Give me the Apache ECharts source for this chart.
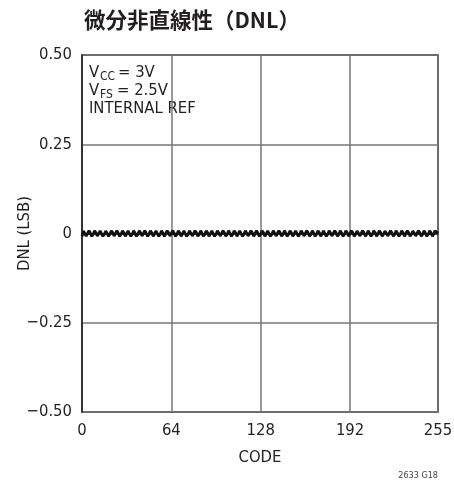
<!DOCTYPE html>
<html><head><meta charset="utf-8">
<script src="https://cdn.jsdelivr.net/npm/echarts@6/dist/echarts.min.js"></script>
<style>html,body{margin:0;padding:0;background:#fff;}#c{width:454px;height:481px;}</style>
</head><body><div id="c"></div>
<script>
const titleText = '微分非直線性（DNL）';
const xTicks = [0, 64, 128, 192, 255];
const yTicks = [-0.5, -0.25, 0, 0.25, 0.5];
const yTickLabels = ['\u22120.50', '\u22120.25', '0', '0.25', '0.50'];
const dnl = [
-0.008,0.007,0.002,-0.007,-0.003,0.008,0.001,-0.008,
-0.002,0.008,0.002,-0.007,-0.003,0.007,0.002,-0.008,
-0.002,0.007,0.001,-0.008,-0.002,0.008,0.002,-0.007,
-0.003,0.008,0.001,-0.008,-0.002,0.008,0.002,-0.008,
-0.003,0.007,0.002,-0.008,-0.002,0.008,0.001,-0.008,
-0.002,0.008,0.002,-0.007,-0.003,0.008,0.001,-0.008,
-0.002,0.008,0.002,-0.008,-0.003,0.007,0.002,-0.008,
-0.002,0.008,0.001,-0.008,-0.003,0.008,0.002,-0.007,
-0.002,0.008,0.001,-0.008,-0.002,0.008,0.002,-0.008,
-0.003,0.007,0.002,-0.008,-0.002,0.008,0.001,-0.007,
-0.003,0.008,0.002,-0.008,-0.002,0.008,0.001,-0.008,
-0.002,0.008,0.002,-0.008,-0.003,0.007,0.002,-0.008,
-0.002,0.008,0.001,-0.007,-0.003,0.008,0.002,-0.008,
-0.002,0.008,0.001,-0.008,-0.002,0.008,0.002,-0.008,
-0.003,0.007,0.002,-0.008,-0.002,0.008,0.001,-0.007,
-0.002,0.008,0.002,-0.008,-0.003,0.008,0.001,-0.008,
-0.002,0.008,0.002,-0.008,-0.003,0.007,0.002,-0.008,
-0.002,0.008,0.001,-0.007,-0.003,0.008,0.002,-0.008,
-0.002,0.008,0.001,-0.008,-0.002,0.008,0.002,-0.008,
-0.003,0.007,0.002,-0.008,-0.002,0.008,0.001,-0.007,
-0.003,0.008,0.002,-0.008,-0.002,0.008,0.001,-0.008,
-0.002,0.008,0.002,-0.008,-0.003,0.007,0.002,-0.008,
-0.002,0.008,0.001,-0.007,-0.003,0.008,0.002,-0.008,
-0.002,0.008,0.001,-0.008,-0.002,0.008,0.002,-0.008,
-0.003,0.008,0.002,-0.008,-0.002,0.007,0.001,-0.007,
-0.003,0.008,0.002,-0.008,-0.002,0.008,0.001,-0.008,
-0.002,0.008,0.002,-0.008,-0.003,0.008,0.002,-0.008,
-0.002,0.007,0.001,-0.007,-0.003,0.008,0.002,-0.008,
-0.002,0.008,0.001,-0.008,-0.002,0.008,0.002,-0.008,
-0.003,0.008,0.002,-0.008,-0.002,0.007,0.001,-0.007,
-0.003,0.008,0.002,-0.008,-0.002,0.008,0.001,-0.008,
-0.002,0.008,0.002,-0.008,-0.003,0.008,0.002,0.006
];
const codes = dnl.map((v, i) => i);
const notes = ['INTERNAL REF'];
const figId = '2633 G18';

const FONT = '"DejaVu Sans Condensed","DejaVu Sans",sans-serif';
const INK = '#231f20';
const chart = echarts.init(document.getElementById('c'), null, {renderer: 'canvas'});
function t(x, y, text, size) {
  return {type: 'text', x: x, y: y, style: {text: text, font: size + 'px ' + FONT, fill: INK, verticalAlign: 'middle', align: 'left'}};
}
chart.setOption({
  animation: false,
  backgroundColor: '#fff',
  title: {
    text: titleText, left: 79, top: 4,
    textStyle: {fontFamily: '"Noto Sans CJK JP",sans-serif', fontWeight: 'bold', fontSize: 21.5, color: INK}
  },
  grid: {left: 82, right: 16, top: 55, bottom: 69, show: true, borderColor: INK, borderWidth: 1.5, outerBoundsMode: 'none'},
  xAxis: {
    type: 'value', min: 0, max: 255, interval: 64,
    name: 'CODE', nameLocation: 'middle', nameGap: 37, nameMoveOverlap: false,
    nameTextStyle: {fontFamily: FONT, fontSize: 16.5, color: INK},
    axisLine: {show: true, lineStyle: {color: INK, width: 1.5}},
    axisTick: {show: false},
    axisLabel: {fontFamily: FONT, fontSize: 16.5, color: INK, margin: 10, showMaxLabel: true,
      formatter: v => xTicks.includes(v) ? String(v) : ''},
    splitLine: {show: true, lineStyle: {color: '#777', width: 1.5}}
  },
  yAxis: {
    type: 'value', min: -0.5, max: 0.5, interval: 0.25,
    name: 'DNL (LSB)', nameLocation: 'middle', nameGap: 49, nameRotate: 90, nameMoveOverlap: false,
    nameTextStyle: {fontFamily: FONT, fontSize: 16.5, color: INK},
    axisLine: {show: true, lineStyle: {color: INK, width: 1.5}},
    axisTick: {show: false},
    axisLabel: {fontFamily: FONT, fontSize: 16.5, color: INK, margin: 10,
      formatter: v => { const i = yTicks.findIndex(k => Math.abs(k - v) < 1e-9); return i >= 0 ? yTickLabels[i] : ''; }},
    splitLine: {show: true, lineStyle: {color: '#777', width: 1.5}}
  },
  graphic: [
    t(89, 73, 'V', 16.5), t(100, 77, 'CC', 12), t(118, 73, '= 3V', 16.5),
    t(89, 91, 'V', 16.5), t(100, 95, 'FS', 12), t(117, 91, '= 2.5V', 16.5),
    t(89, 109, notes[0], 16.5),
    {type: 'text', x: 438, y: 476, style: {text: figId, font: '9px ' + FONT, fill: '#444', align: 'right', verticalAlign: 'middle'}}
  ],
  series: [{
    type: 'line', data: codes.map((c, i) => [c, dnl[i]]),
    showSymbol: false, symbol: 'none', smooth: false,
    lineStyle: {color: '#111', width: 2.8}
  }]
});
</script></body></html>
